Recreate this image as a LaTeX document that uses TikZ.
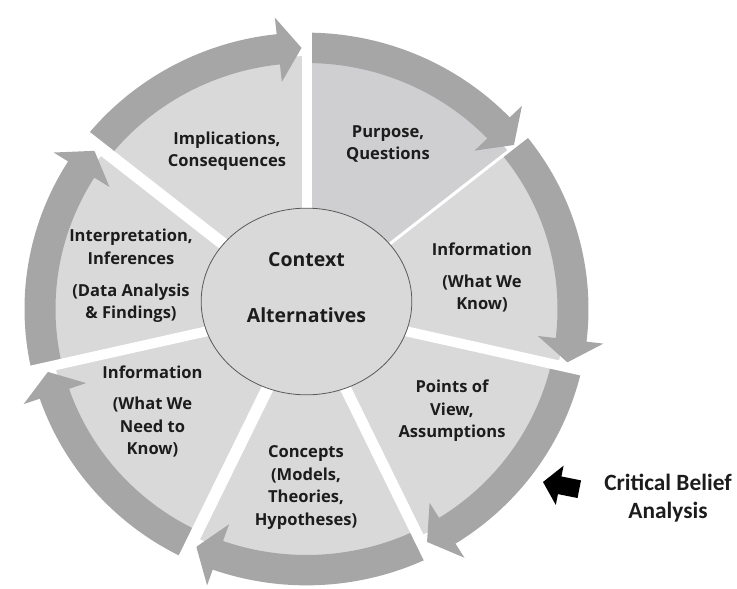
\documentclass[tikz,border=0pt]{standalone}
\usepackage{fontspec}
\setmainfont{Open Sans}
\newfontfamily\calibrifont{Carlito}
\usetikzlibrary{shapes.geometric}

\definecolor{segfill}{HTML}{D9D9D9}
\definecolor{segdark}{HTML}{CFCED0}
\definecolor{ringgray}{HTML}{A6A6A6}
\definecolor{txtgray}{HTML}{1C1C1C}

\begin{document}
\begin{tikzpicture}[x=0.75pt,y=0.75pt,
    seglabel/.style={align=center,inner sep=0pt,text=txtgray,
      font=\bfseries\fontsize{12.4}{16.9}\selectfont},
    hublabel/.style={align=center,inner sep=0pt,text=txtgray,
      font=\bfseries\fontsize{14.6}{17.5}\selectfont},
    hub/.style={ellipse,draw=black!65,line width=0.6pt,fill=segfill,
      minimum width=158pt,minimum height=140pt,inner sep=0pt}]

    \useasboundingbox (-306.5,-279) rectangle (430.5,309);

    \begin{scope}[yscale=0.98]
    % Pie segments (each one ends at angle \e)
    \foreach \e/\c in {90/segfill,38.57/segdark,-12.86/segfill,
        -64.29/segfill,-115.71/segfill,-167.14/segfill,141.43/segfill}{
      \pgfmathsetmacro{\angS}{\e+51.43}
      \fill[\c] (0,0) -- (\angS:258)
        arc[start angle=\angS,end angle=\e,radius=258] -- cycle;
    }

    % Curved arrows round the rim, clockwise
    \foreach \e/\w in {90/10,38.57/3,-12.86/10,-64.29/11,
        -115.71/12,-167.14/10,141.43/12}{
      \pgfmathsetmacro{\angS}{\e+51.43}
      \pgfmathsetmacro{\angT}{\e+\w/2/266.5*57.3}
      \pgfmathsetmacro{\angB}{\angT+5}
      \fill[ringgray] (\angS:251)
        arc[start angle=\angS,end angle=\angB,radius=251]
        -- (\angB:233) -- (\angT:266.5) -- (\angB:299) -- (\angB:282)
        arc[start angle=\angB,end angle=\angS,radius=282] -- cycle;
    }

    % White gaps between segments
    \foreach \e/\w in {90/10,38.57/3,-12.86/10,-64.29/11,
        -115.71/12,-167.14/10,141.43/12}{
      \pgfmathsetmacro{\lw}{0.75*\w}
      \draw[white,line width=\lw pt] (0,0) -- (\e:300);
    }
    \end{scope}

    % Centre
    \node[hub] (hub) at (0,7.5) {};
    \node[hublabel] (ctx) at (0,21.5) {Context\\[25pt]Alternatives};

    % Segment labels
    \node[seglabel] (impl) at (-79.5,158) {Implications,\\Consequences};
    \node[seglabel] (purp) at (81.5,165) {Purpose,\\Questions};
    \node[seglabel] (know) at (175.5,31.5) {Information\\[7pt](What We\\Know)};
    \node[seglabel] (pov) at (145.5,-102) {Points of\\View,\\Assumptions};
    \node[seglabel] (conc) at (-0.5,-178.5)
      {Concepts\\(Models,\\Theories,\\Hypotheses)};
    \node[seglabel] (need) at (-154,-102.5)
      {Information\\[7pt](What We\\Need to\\Know)};
    \node[seglabel] (interp) at (-175.5,33)
      {Interpretation,\\Inferences\\[7pt](Data Analysis\\\& Findings)};

    % Side note with its pointer
    \node[align=center,inner sep=0pt,text=txtgray,
      font=\calibrifont\bfseries\fontsize{17.5}{21}\selectfont]
      (belief) at (361.5,-189) {Critical Belief\\Analysis};
    \coordinate (tip) at (236.5,-173);
    \fill[black,shift={(tip)},rotate=-11.2]
      (0,0) -- (17,20) -- (17,9) -- (37,9) -- (37,-9) -- (17,-9)
      -- (17,-20) -- cycle;

\end{tikzpicture}
\end{document}
